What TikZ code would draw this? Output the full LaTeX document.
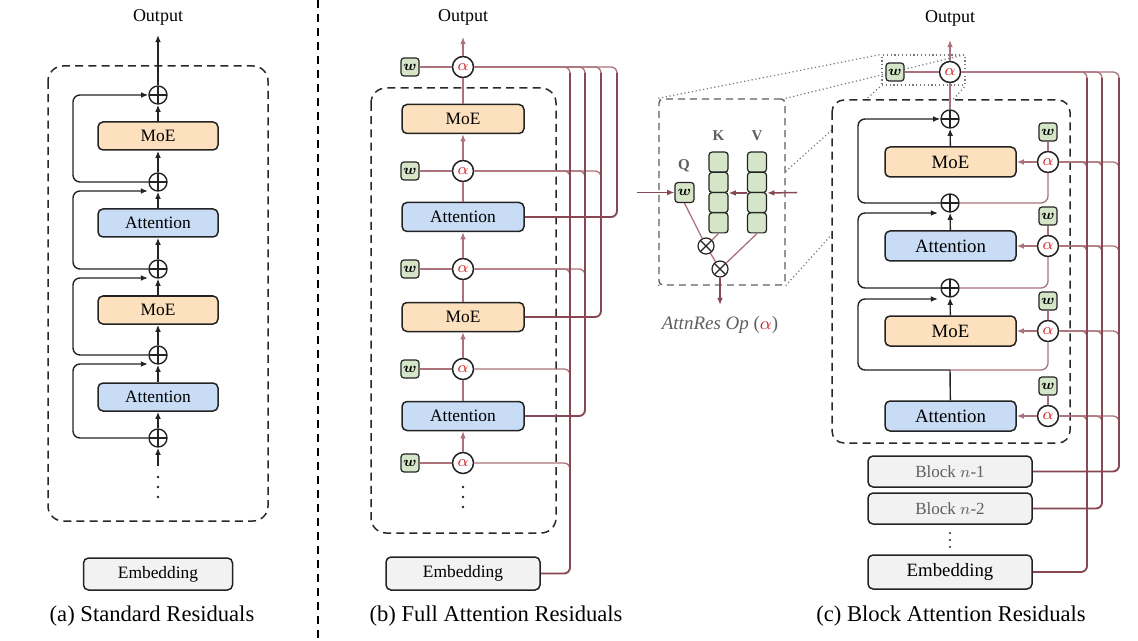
\documentclass[tikz,border=0pt]{standalone}
\usepackage{amsmath}
\usepackage{fontspec}
\setmainfont{Liberation Serif}
\usetikzlibrary{arrows.meta,backgrounds}
\definecolor{moefill}{RGB}{253,224,190}
\definecolor{attfill}{RGB}{200,220,245}
\definecolor{embfill}{RGB}{242,242,242}
\definecolor{wfill}{RGB}{213,230,200}
\definecolor{rdark}{RGB}{135,72,84}
\definecolor{rlight}{RGB}{172,114,122}
\definecolor{alphared}{RGB}{205,35,35}
\definecolor{edgec}{RGB}{35,35,35}
\definecolor{boxdash}{RGB}{40,40,40}
\definecolor{opdash}{RGB}{95,95,95}
\definecolor{dotc}{RGB}{120,120,120}
\definecolor{graytext}{RGB}{95,95,95}
\newcommand{\myalpha}{\textcolor{alphared}{$\alpha$}}
\newcommand{\myw}{$\boldsymbol{w}$}
\tikzset{
  blk/.style={draw=edgec,line width=0.75pt,rounded corners=2.5pt,inner sep=0pt},
  moe/.style={blk,fill=moefill},
  att/.style={blk,fill=attfill},
  emb/.style={blk,fill=embfill},
  sizeA/.style={minimum width=60pt,minimum height=14pt,font=\fontsize{8.7}{10}\selectfont},
  sizeB/.style={minimum width=61pt,minimum height=14.5pt,font=\fontsize{8.7}{10}\selectfont},
  sizeC/.style={minimum width=65.5pt,minimum height=15pt,font=\fontsize{9.4}{11}\selectfont},
  sizeBlk/.style={minimum width=82pt,minimum height=15.5pt,font=\fontsize{8.5}{10}\selectfont},
  oplus/.style={circle,draw=edgec,line width=0.7pt,fill=white,minimum size=9pt,inner sep=0pt,
    path picture={\draw[edgec,line width=0.6pt] (path picture bounding box.north) -- (path picture bounding box.south)
      (path picture bounding box.west) -- (path picture bounding box.east);}},
  otimes/.style={circle,draw=edgec,line width=0.6pt,fill=white,minimum size=8pt,inner sep=0pt,
    path picture={\draw[edgec,line width=0.55pt] (path picture bounding box.north west) -- (path picture bounding box.south east)
      (path picture bounding box.north east) -- (path picture bounding box.south west);}},
  alph/.style={circle,draw=edgec,line width=0.75pt,fill=white,minimum size=10.5pt,inner sep=0pt,font=\fontsize{8}{9}\selectfont},
  wbox/.style={draw=edgec,line width=0.6pt,fill=wfill,rounded corners=1.5pt,minimum width=9pt,minimum height=9pt,inner sep=0pt,font=\fontsize{7.5}{8}\selectfont},
  cell/.style={draw=edgec,line width=0.6pt,fill=wfill,rounded corners=1.5pt,minimum width=9.5pt,minimum height=10pt,inner sep=0pt},
  bl/.style={edgec,line width=0.7pt},
  arr/.style={-{Latex[length=3.6pt,width=2.9pt]}},
  lred/.style={rlight,line width=0.65pt},
  dred/.style={rdark,line width=0.95pt},
  dashbox/.style={boxdash,line width=0.75pt,dash pattern=on 4pt off 2.6pt},
  sepline/.style={black,line width=0.85pt,dash pattern=on 4pt off 3pt},
  dotline/.style={dotc,line width=0.6pt,dash pattern=on 0.6pt off 1.3pt},
  outlbl/.style={font=\fontsize{9}{10}\selectfont,inner sep=0pt},
  captxt/.style={font=\fontsize{11.3}{13}\selectfont,inner sep=0pt},
  kvl/.style={font=\bfseries\fontsize{7.5}{8}\selectfont,text=graytext,inner sep=0pt},
  rc/.style={rounded corners=3.5pt},
  tapc/.style={rounded corners=3pt}
}
\begin{document}
\begin{tikzpicture}[x=0.5pt,y=-0.5pt]
\useasboundingbox (0,0) rectangle (1138,641);

% separator
\draw[sepline] (318,0) -- (318,641);

%%%%%%%%%%%%%%%% Panel (a)
\draw[dashbox,rounded corners=7.5pt] (48,66) rectangle (268,521);
\node[outlbl] (outA) at (158,17) {Output};
\node[moe,sizeA] (moeA1) at (158,136) {MoE};
\node[att,sizeA] (attA1) at (158,223) {Attention};
\node[moe,sizeA] (moeA2) at (158,310) {MoE};
\node[att,sizeA] (attA2) at (158,397) {Attention};
\node[oplus] (pA0) at (158,95) {};
\node[oplus] (pA1) at (158,182) {};
\node[oplus] (pA2) at (158,269) {};
\node[oplus] (pA3) at (158,355) {};
\node[oplus] (pA4) at (158,438) {};
\foreach \yy in {477,487,497} \fill[edgec] (158,\yy) circle[radius=0.65pt];
\node[emb,minimum width=74.5pt,minimum height=16pt,font=\fontsize{8.7}{10}\selectfont] (embA) at (158,574) {Embedding};
\node[captxt] (capA) at (152,616) {(a) Standard Residuals};
\coordinate (inA) at (158,466);
\coordinate (topA) at (158,35);
\draw[bl,arr] (inA) -- (pA4);
\draw[bl,arr] (pA4) -- (attA2);
\draw[bl,arr] (attA2) -- (pA3);
\draw[bl,arr] (pA3) -- (moeA2);
\draw[bl,arr] (moeA2) -- (pA2);
\draw[bl,arr] (pA2) -- (attA1);
\draw[bl,arr] (attA1) -- (pA1);
\draw[bl,arr] (pA1) -- (moeA1);
\draw[bl,arr] (moeA1) -- (pA0);
\draw[bl,arr] (pA0) -- (topA);
\coordinate (lA1) at (148,191);
\coordinate (lA2) at (148,278);
\coordinate (lA3) at (148,364);
\draw[bl,arr,rc] (pA1.west) -- (73,182) -- (73,95) -- (pA0.west);
\draw[bl,arr,rc] (pA2.west) -- (73,269) -- (73,191) -- (lA1);
\draw[bl,arr,rc] (pA3.west) -- (73,355) -- (73,278) -- (lA2);
\draw[bl,arr,rc] (pA4.west) -- (73,438) -- (73,364) -- (lA3);

%%%%%%%%%%%%%%%% Panel (b)
\draw[dashbox,rounded corners=7.5pt] (371,88) rectangle (556,533);
\node[outlbl] (outB) at (463,17) {Output};
\node[moe,sizeB] (moeB1) at (463,119) {MoE};
\node[att,sizeB] (attB1) at (463,217) {Attention};
\node[moe,sizeB] (moeB2) at (463,317) {MoE};
\node[att,sizeB] (attB2) at (463,416) {Attention};
\node[alph] (aB0) at (463,67) {\myalpha};
\node[alph] (aB1) at (463,171) {\myalpha};
\node[alph] (aB2) at (463,269) {\myalpha};
\node[alph] (aB3) at (463,369) {\myalpha};
\node[alph] (aB4) at (463,463) {\myalpha};
\node[wbox] (wB0) at (410,67) {\myw};
\node[wbox] (wB1) at (410,171) {\myw};
\node[wbox] (wB2) at (410,269) {\myw};
\node[wbox] (wB3) at (410,369) {\myw};
\node[wbox] (wB4) at (410,463) {\myw};
\foreach \yy in {487,497,507} \fill[edgec] (463,\yy) circle[radius=0.65pt];
\node[emb,minimum width=77pt,minimum height=16.5pt,font=\fontsize{8.7}{10}\selectfont] (embB) at (463,573.5) {Embedding};
\node[captxt] (capB) at (496,616) {(b) Full Attention Residuals};
\coordinate (topB) at (463,37);
\draw[lred,arr] (aB4) -- (attB2);
\draw[lred] (attB2) -- (aB3);
\draw[lred,arr] (aB3) -- (moeB2);
\draw[lred] (moeB2) -- (aB2);
\draw[lred,arr] (aB2) -- (attB1);
\draw[lred] (attB1) -- (aB1);
\draw[lred,arr] (aB1) -- (moeB1);
\draw[lred] (moeB1) -- (aB0);
\draw[lred,arr] (aB0) -- (topB);
\foreach \k in {0,...,4} \draw[lred] (wB\k) -- (aB\k);
% taps
\foreach \xx in {570,585,601,617} \draw[lred,tapc] (aB0.east) -- (\xx,67) -- (\xx,80);
\foreach \xx in {570,585,601} \draw[lred,tapc] (aB1.east) -- (\xx,171) -- (\xx,184);
\foreach \xx in {570,585} \draw[lred,tapc] (aB2.east) -- (\xx,269) -- (\xx,282);
\draw[lred,tapc] (aB3.east) -- (570,369) -- (570,382);
\draw[lred,tapc] (aB4.east) -- (570,463) -- (570,476);
% sources
\draw[dred,tapc] (embB.east) -- (570,573.5) -- (570,73);
\draw[dred,tapc] (attB2.east) -- (585,416) -- (585,73);
\draw[dred,tapc] (moeB2.east) -- (601,317) -- (601,73);
\draw[dred,tapc] (attB1.east) -- (617,217) -- (617,73);

%%%%%%%%%%%%%%%% AttnRes Op
\node[draw=opdash,fill=white,line width=0.7pt,dash pattern=on 3.6pt off 2.4pt,rounded corners=2pt,
  minimum width=63pt,minimum height=93pt,inner sep=0pt] (opbox) at (722,192) {};
\node[draw=dotc,line width=0.6pt,dash pattern=on 0.6pt off 1.3pt,minimum width=41.5pt,minimum height=15pt,inner sep=0pt] (zsrc) at (923.5,70) {};
\begin{scope}[on background layer]
\draw[dotline] (opbox.north west) -- (zsrc.north west);
\draw[dotline] (opbox.north east) -- (zsrc.north east);
\draw[dotline] (opbox.south west) -- (zsrc.south west);
\draw[dotline] (opbox.south east) -- (zsrc.south east);
\end{scope}
\node[kvl] (lblQ) at (684,166) {Q};
\node[kvl] (lblK) at (718.5,136) {K};
\node[kvl] (lblV) at (757,136) {V};
\node[cell] (K1) at (718.5,162.1) {};
\node[cell] (K2) at (718.5,182.4) {};
\node[cell] (K3) at (718.5,202.6) {};
\node[cell] (K4) at (718.5,222.9) {};
\node[cell] (V1) at (757,162.1) {};
\node[cell] (V2) at (757,182.4) {};
\node[cell] (V3) at (757,202.6) {};
\node[cell] (V4) at (757,222.9) {};
\node[wbox,minimum width=9.5pt,minimum height=10pt] (wOp) at (684.5,192.5) {\myw};
\node[otimes] (x1) at (706,246) {};
\node[otimes] (x2) at (720,269) {};
\coordinate (opL) at (637,192.5);
\coordinate (opR) at (797,192.5);
\coordinate (opOut) at (720,305);
\draw[dred,line width=0.75pt,arr] (opL) -- (wOp.west);
\draw[dred,line width=0.75pt,arr] (opR) -- (V2.south east);
\draw[dred,line width=0.75pt,arr] (V2.south west) -- (K2.south east);
\draw[lred] (wOp.south) -- (x1);
\draw[lred] (K4.south) -- (x1);
\draw[lred] (V4.south) -- (x2);
\draw[lred] (x1) -- (x2);
\draw[dred,line width=0.75pt,arr] (x2) -- (opOut);
\node[font=\fontsize{9.5}{11}\selectfont,text=graytext,inner sep=0pt] (opcap) at (720,325) {\textit{AttnRes Op} (\myalpha)};

%%%%%%%%%%%%%%%% Panel (c)
\draw[dashbox,fill=white,rounded corners=6pt] (832,100) rectangle (1070,443);
\node[outlbl] (outC) at (950,18) {Output};
\node[moe,sizeC] (moeC1) at (950.5,162) {MoE};
\node[att,sizeC] (attC1) at (950.5,246) {Attention};
\node[moe,sizeC] (moeC2) at (950.5,331) {MoE};
\node[att,sizeC] (attC2) at (950.5,416) {Attention};
\node[oplus] (pC0) at (950,119) {};
\node[oplus] (pC1) at (950,203) {};
\node[oplus] (pC2) at (950,288) {};
\node[alph] (aCout) at (950,72) {\myalpha};
\node[wbox] (wCout) at (895,72) {\myw};
\node[alph] (aC1) at (1048,162) {\myalpha};
\node[alph] (aC2) at (1048,246) {\myalpha};
\node[alph] (aC3) at (1048,331) {\myalpha};
\node[alph] (aC4) at (1048,416) {\myalpha};
\node[wbox] (wC1) at (1048,132) {\myw};
\node[wbox] (wC2) at (1048,216) {\myw};
\node[wbox] (wC3) at (1048,301) {\myw};
\node[wbox] (wC4) at (1048,386) {\myw};
\node[emb,sizeBlk] (bn1) at (950,471.5) {\textcolor{graytext}{Block $n$-1}};
\node[emb,sizeBlk] (bn2) at (950,508.5) {\textcolor{graytext}{Block $n$-2}};
\foreach \yy in {533,540,547} \fill[edgec] (950,\yy) circle[radius=0.6pt];
\node[emb,minimum width=82pt,minimum height=17pt,font=\fontsize{9.4}{11}\selectfont] (embC) at (950,572) {Embedding};
\node[captxt] (capC) at (951,616) {(c) Block Attention Residuals};
\coordinate (topC) at (950,40);
\coordinate (jC) at (950,370);
\coordinate (lC2) at (938,213);
\coordinate (lC3) at (938,299);
% black residual stream
\draw[bl,arr] (moeC1) -- (pC0);
\draw[bl,arr] (attC1) -- (pC1);
\draw[bl,arr] (moeC2) -- (pC2);
\draw[bl] (attC2) -- (jC);
\draw[bl,arr,rc] (pC1.west) -- (858,203) -- (858,119) -- (pC0.west);
\draw[bl,arr,rc] (pC2.west) -- (858,288) -- (858,213) -- (lC2);
\draw[bl,arr,rc] (jC) -- (858,370) -- (858,299) -- (lC3);
% alpha connections
\draw[lred] (pC0) -- (aCout);
\draw[lred,arr] (aCout) -- (topC);
\draw[lred] (wCout) -- (aCout);
\foreach \k in {1,...,4} \draw[lred] (wC\k) -- (aC\k);
\draw[lred,arr] (aC1) -- (moeC1);
\draw[lred,arr] (aC2) -- (attC1);
\draw[lred,arr] (aC3) -- (moeC2);
\draw[lred,arr] (aC4) -- (attC2);
\draw[lred,rc] (aC1.south) -- (1048,203) -- (pC1.east);
\draw[lred,rc] (aC2.south) -- (1048,288) -- (pC2.east);
\draw[lred,rc] (aC3.south) -- (1048,370) -- (jC);
% taps
\foreach \xx in {1087,1102,1119} {
  \draw[lred,tapc] (aCout.east) -- (\xx,72) -- (\xx,85);
  \draw[lred,tapc] (aC1.east) -- (\xx,162) -- (\xx,175);
  \draw[lred,tapc] (aC2.east) -- (\xx,246) -- (\xx,259);
  \draw[lred,tapc] (aC3.east) -- (\xx,331) -- (\xx,344);
  \draw[lred,tapc] (aC4.east) -- (\xx,416) -- (\xx,429);
}
% sources
\draw[dred,tapc] (embC.east) -- (1087,572) -- (1087,78);
\draw[dred,tapc] (bn2.east) -- (1102,508.5) -- (1102,78);
\draw[dred,tapc] (bn1.east) -- (1119,471.5) -- (1119,78);
\end{tikzpicture}
\end{document}
